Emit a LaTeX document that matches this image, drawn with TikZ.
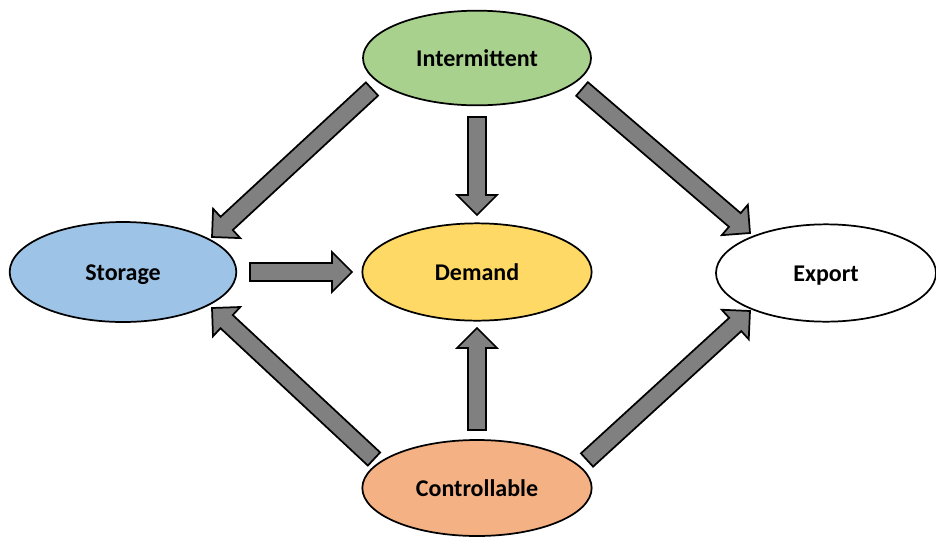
\documentclass[tikz,border=0pt]{standalone}
\usepackage{fontspec}
\setmainfont{Carlito}
\usetikzlibrary{calc}
\definecolor{cgreen}{HTML}{A9D18E}
\definecolor{cblue}{HTML}{9DC3E6}
\definecolor{cyellow}{HTML}{FFD966}
\definecolor{corange}{HTML}{F4B183}
\definecolor{cgray}{HTML}{808080}
\tikzset{
  oval/.style={ellipse, draw=black, line width=1.3pt, inner sep=0pt, text height=15pt, text depth=3pt, font=\fontsize{18}{21}\selectfont\bfseries},
  blockarrow/.style={draw=black, fill=cgray, line width=1.3pt, line join=miter},
}
\usetikzlibrary{shapes.geometric}
\newcommand\blockarr[2]{%
  \coordinate (ba) at ($(#2)!15pt!(#1)$);
  \draw[blockarrow] ($(#1)!6.75pt!90:(#2)$) -- ($(ba)!6.75pt!-90:(#1)$) -- ($(ba)!15pt!-90:(#1)$) -- (#2)
     -- ($(ba)!15pt!90:(#1)$) -- ($(ba)!6.75pt!90:(#1)$) -- ($(#1)!6.75pt!-90:(#2)$) -- cycle;}
\begin{document}
\begin{tikzpicture}[x=0.75pt,y=-0.75pt]
\useasboundingbox (0,0) rectangle (936,536);
\node[oval, fill=cgreen, minimum width=171pt, minimum height=71pt] (I) at (477,58) {Intermittent};
\node[oval, fill=cblue, minimum width=170pt, minimum height=75pt] (S) at (123,272) {Storage};
\node[oval, fill=cyellow, minimum width=172pt, minimum height=73pt] (D) at (477,272) {Demand};
\node[oval, fill=white, minimum width=165pt, minimum height=73pt] (E) at (826,273) {Export};
\node[oval, fill=corange, minimum width=172pt, minimum height=72pt] (C) at (477,488) {Controllable};
% arrow ends
\coordinate (id1) at (477,117); \coordinate (id2) at (477,215);
\coordinate (is1) at (372,89);  \coordinate (is2) at (212,237);
\coordinate (ie1) at (582,89);  \coordinate (ie2) at (750,233);
\coordinate (sd1) at (250,272); \coordinate (sd2) at (352,272);
\coordinate (cd1) at (477,430); \coordinate (cd2) at (477,328);
\coordinate (cs1) at (374,459); \coordinate (cs2) at (212,308);
\coordinate (ce1) at (587,460); \coordinate (ce2) at (750,311);
\blockarr{id1}{id2}
\blockarr{is1}{is2}
\blockarr{ie1}{ie2}
\blockarr{sd1}{sd2}
\blockarr{cd1}{cd2}
\blockarr{cs1}{cs2}
\blockarr{ce1}{ce2}
\end{tikzpicture}
\end{document}
